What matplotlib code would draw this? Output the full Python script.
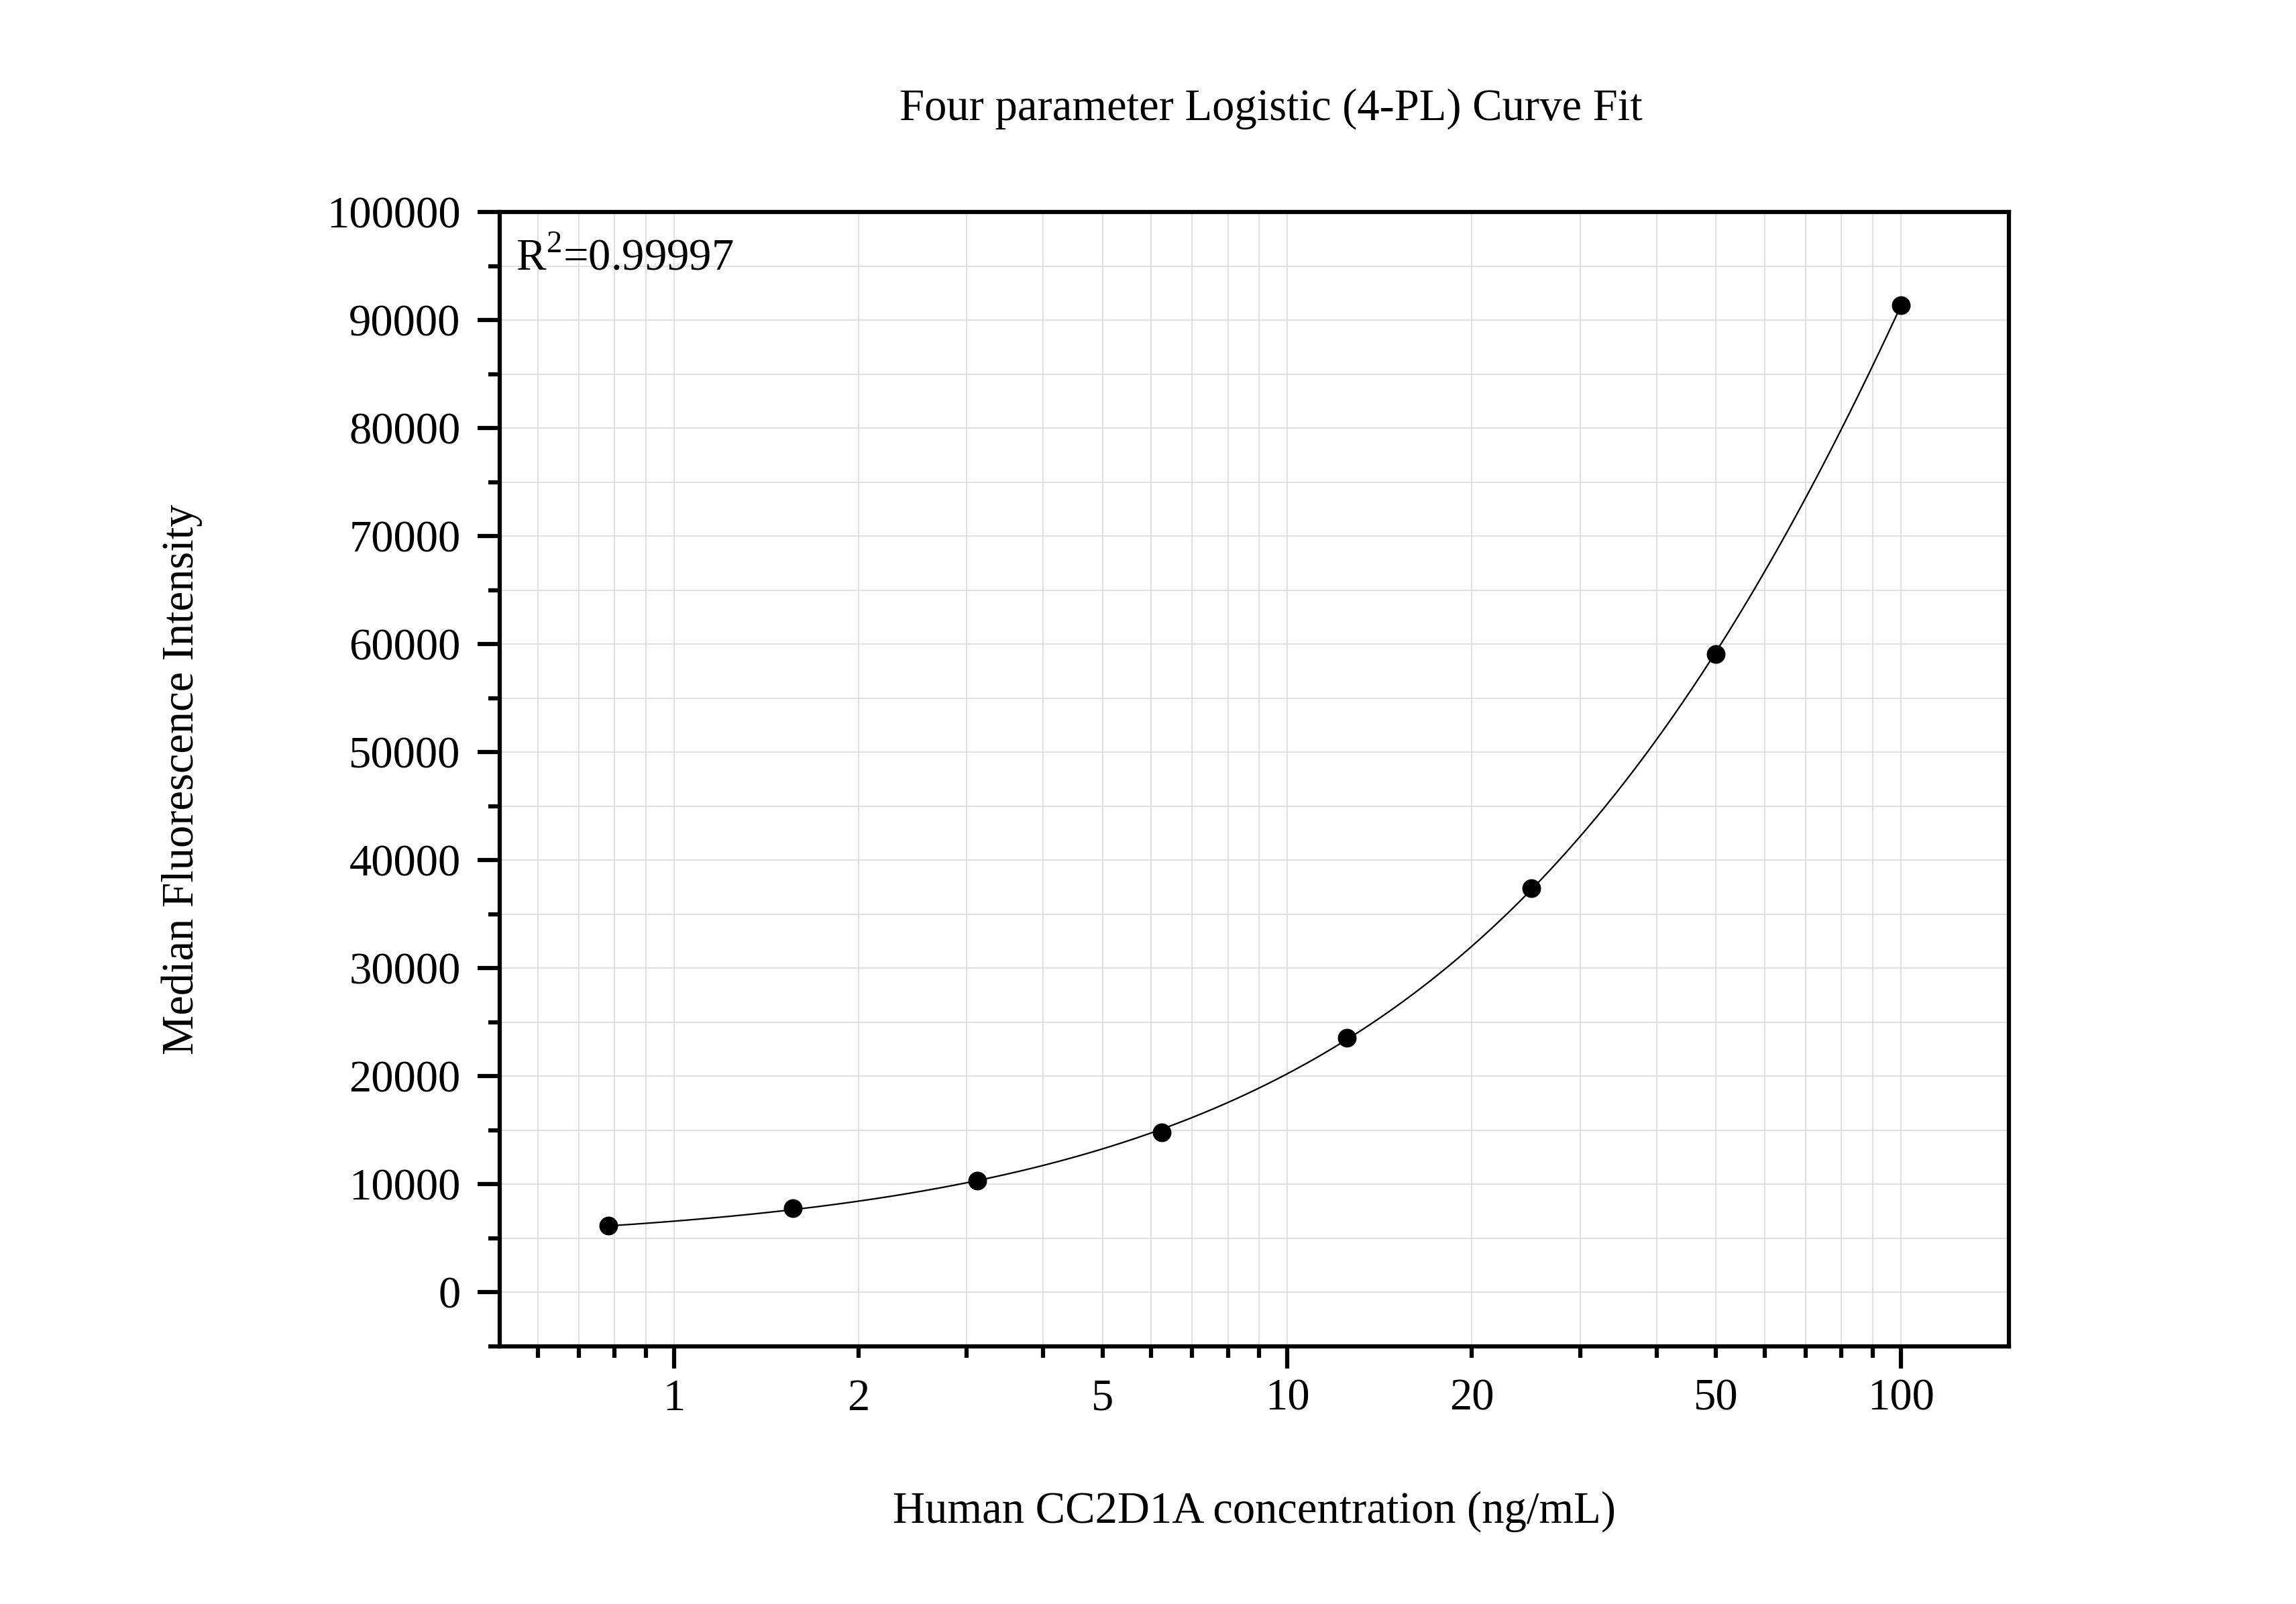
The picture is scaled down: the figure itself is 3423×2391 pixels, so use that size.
import numpy as np
import matplotlib

matplotlib.use("Agg")
import matplotlib.pyplot as plt
from matplotlib.ticker import FixedLocator, NullFormatter, FuncFormatter, MultipleLocator

plt.rcParams["font.family"] = ["Liberation Serif", "DejaVu Serif"]
plt.rcParams["font.size"] = 16
plt.rcParams["mathtext.fontset"] = "custom"
plt.rcParams["mathtext.rm"] = "Liberation Serif"

# standards: concentration (ng/mL) and median fluorescence intensity
conc = [0.78125, 1.5625, 3.125, 6.25, 12.5, 25, 50, 100]
mfi = [6160, 7800, 10350, 14830, 23550, 37410, 59080, 91380]
r2_text = "R$^\\mathrm{2}$=0.99997"

title = "Four parameter Logistic (4-PL) Curve Fit"
xlabel = "Human CC2D1A concentration (ng/mL)"
ylabel = "Median Fluorescence Intensity"

x_major = [1, 10, 100]
x_minor_labelled = [2, 5, 20, 50]

# ── 4-PL fit: y = D + (A - D) / (1 + (x/C)^B), A and D by least squares ──
xd = np.array(conc)
yd = np.array(mfi, dtype=float)
best = None
for B in np.linspace(0.5, 3.0, 126):
    for logC in np.linspace(0, 5, 251):
        g = 1.0 / (1.0 + (xd / 10 ** logC) ** B)
        M = np.column_stack([g, 1 - g])
        coef, *_ = np.linalg.lstsq(M, yd, rcond=None)
        sse = np.sum((M @ coef - yd) ** 2)
        if best is None or sse < best[0]:
            best = (sse, B, 10 ** logC, coef[0], coef[1])
_, B, C, A, D = best

xc = np.logspace(np.log10(conc[0]), np.log10(conc[-1]), 400)
yc = D + (A - D) / (1 + (xc / C) ** B)

fig = plt.figure(figsize=(3423 / 300, 2391 / 300), dpi=300)
ax = fig.add_axes([0.2176, 0.1606, 0.6573, 0.7072])

ax.plot(xc, yc, color="black", linewidth=0.55, zorder=3)
ax.plot(conc, mfi, "o", color="black", markersize=5.7, zorder=4)

ax.set_xscale("log")
ax.set_xlim(0.52, 150)
ax.set_ylim(-5000, 100000)

ax.xaxis.set_major_locator(FixedLocator(x_major))
ax.xaxis.set_minor_locator(FixedLocator(
    [m * 10.0 ** e for e in (-1, 0, 1) for m in range(2, 10) if 0.52 < m * 10.0 ** e < 150]))
ax.xaxis.set_major_formatter(FuncFormatter(lambda v, p: f"{v:g}"))
ax.xaxis.set_minor_formatter(FuncFormatter(
    lambda v, p: f"{v:g}" if any(abs(v - t) < 1e-6 for t in x_minor_labelled) else ""))

ax.yaxis.set_major_locator(MultipleLocator(10000))
ax.yaxis.set_minor_locator(MultipleLocator(5000))
ax.yaxis.set_minor_formatter(NullFormatter())

ax.grid(True, which="both", color="#dcdcdc", linewidth=0.4)
ax.set_axisbelow(True)

for s in ax.spines.values():
    s.set_linewidth(1.5)

ax.tick_params(which="major", direction="out", length=8, width=1.5, color="black")
ax.tick_params(which="minor", direction="out", length=4, width=1.5, color="black")
ax.tick_params(axis="x", which="major", pad=3.5)
ax.tick_params(axis="x", which="minor", pad=7.5)
ax.tick_params(axis="y", which="major", pad=6)
ax.tick_params(top=False, right=False, which="both")

ax.set_title(title, pad=33, fontsize=16, x=0.511)
ax.set_xlabel(xlabel, fontsize=16)
ax.set_ylabel(ylabel, fontsize=16)
ax.xaxis.set_label_coords(0.5, -0.1275)
ax.yaxis.set_label_coords(-0.197, 0.5)

ax.text(0.0107, 0.949, r2_text, transform=ax.transAxes, ha="left", va="baseline", fontsize=16)

fig.savefig("out.png", dpi=300, facecolor="white")
